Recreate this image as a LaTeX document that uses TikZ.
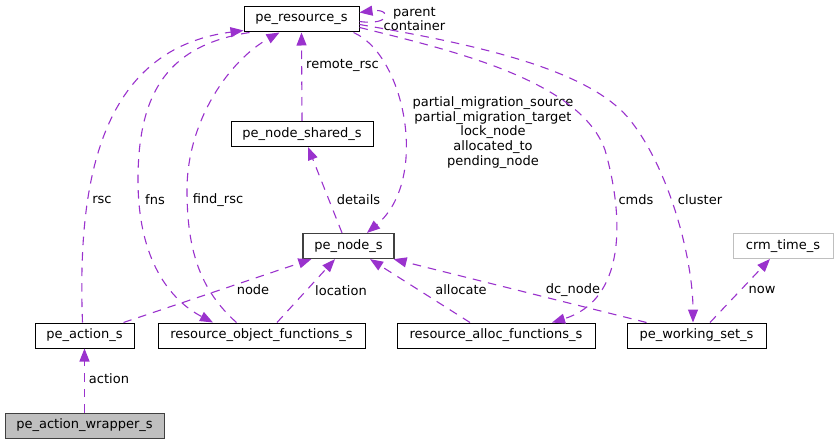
\documentclass[tikz,border=0pt]{standalone}
\usepackage{fontspec}
\setmainfont{DejaVu Sans}
\usepackage{tikz}
\usetikzlibrary{arrows.meta}

\definecolor{relcol}{HTML}{9A32CD}
\definecolor{rootfill}{HTML}{BFBFBF}
\definecolor{rootline}{HTML}{404040}

\begin{document}
\begin{tikzpicture}[x=1pt, y=-1pt, font=\fontsize{13}{14.7}\selectfont,
	cls/.style={draw, line width=1pt, minimum height=25pt, inner sep=1pt},
	rel/.style={relcol, line width=1.1pt, dash pattern=on 8.5pt off 7pt, -{Triangle[length=13pt, width=10pt]}},
	lbl/.style={text=black, inner sep=0pt, align=center}]
				\useasboundingbox (0,0) rectangle (838,444);
				
				\node[cls, minimum width=115pt] (res) at (301.5,19.5) {pe\_resource\_s};
				\node[cls, minimum width=142pt] (shared) at (302,134) {pe\_node\_shared\_s};
				\node[cls, minimum width=91pt, draw=rootline, line width=1.3pt] (nod) at (348.5,246) {pe\_node\_s};
				\node[cls, minimum width=100pt, draw=rootfill] (tim) at (783,246) {crm\_time\_s};
				\node[cls, minimum width=99pt] (act) at (84.5,335.5) {pe\_action\_s};
				\node[cls, minimum width=207pt] (rof) at (261.5,335.5) {resource\_object\_functions\_s};
				\node[cls, minimum width=198pt] (raf) at (496,335.5) {resource\_alloc\_functions\_s};
				\node[cls, minimum width=139pt] (ws) at (696.5,335.5) {pe\_working\_set\_s};
				\node[cls, minimum width=159pt, fill=rootfill, draw=rootline] (wrap) at (84.5,425.5) {pe\_action\_wrapper\_s};
				
				\draw[rel] (wrap.north) -- (act.south) node[lbl] at (109,379) {action};
				\draw[rel] ([xshift=-2pt]act.north) .. controls (78,200) and (92,50) .. ([yshift=2pt]res.south west) node[lbl] at (102,200) {rsc};
				\draw[rel] ([xshift=6pt]res.south west) .. controls (170,45) and (138,90) .. (138,180) .. controls (138,260) and (170,300) .. ([xshift=-48.5pt]rof.north) node[lbl] at (155,200) {fns};
				\draw[rel] ([xshift=-25pt]rof.north) .. controls (200,290) and (187,250) .. (187,190) .. controls (187,120) and (230,60) .. ([xshift=36pt]res.south west) node[lbl] at (218,200) {find\_rsc};
				\draw[rel] (shared.north) -- (res.south) node[lbl] at (342.5,65) {remote\_rsc};
				\draw[rel] ([yshift=-2pt]res.east) .. controls (392,26) and (392,8) .. ([yshift=7pt]res.east) node[lbl] at (414.5,19) {parent\\container};
				\draw[rel] ([xshift=-6.5pt]nod.north) -- ([xshift=6pt]shared.south) node[lbl] at (358.5,200) {details};
				\draw[rel] ([xshift=-6pt]res.south east) .. controls (405,55) and (430,180) .. ([xshift=18.5pt]nod.north) node[lbl] at (493,132.5) {partial\_migration\_source\\partial\_migration\_target\\lock\_node\\allocated\_to\\pending\_node};
				\draw[rel] ([yshift=-8pt]res.east) .. controls (450,50) and (580,80) .. (605,150) .. controls (625,220) and (625,300) .. ([xshift=56pt]raf.north) node[lbl] at (636,200) {cmds};
				\draw[rel] ([yshift=-5pt]res.east) .. controls (480,45) and (590,70) .. (630,120) .. controls (670,170) and (693,260) .. ([xshift=-3.5pt]ws.north) node[lbl] at (700,200) {cluster};
				\draw[rel] ([xshift=-11pt]act.north east) -- ([xshift=9pt]nod.south west) node[lbl] at (253,290) {node};
				\draw[rel] ([xshift=15.5pt]rof.north) -- ([xshift=-13.5pt]nod.south) node[lbl] at (341,291) {location};
				\draw[rel] ([xshift=-26pt]raf.north) -- ([xshift=21.5pt]nod.south) node[lbl] at (461,290) {allocate};
				\draw[rel] ([xshift=20pt]ws.north west) -- ([xshift=-1pt]nod.south east) node[lbl] at (573,290) {dc\_node};
				\draw[rel] ([xshift=13.5pt]ws.north) -- ([xshift=-13pt]tim.south) node[lbl] at (762,290) {now};
			\end{tikzpicture}
\end{document}
